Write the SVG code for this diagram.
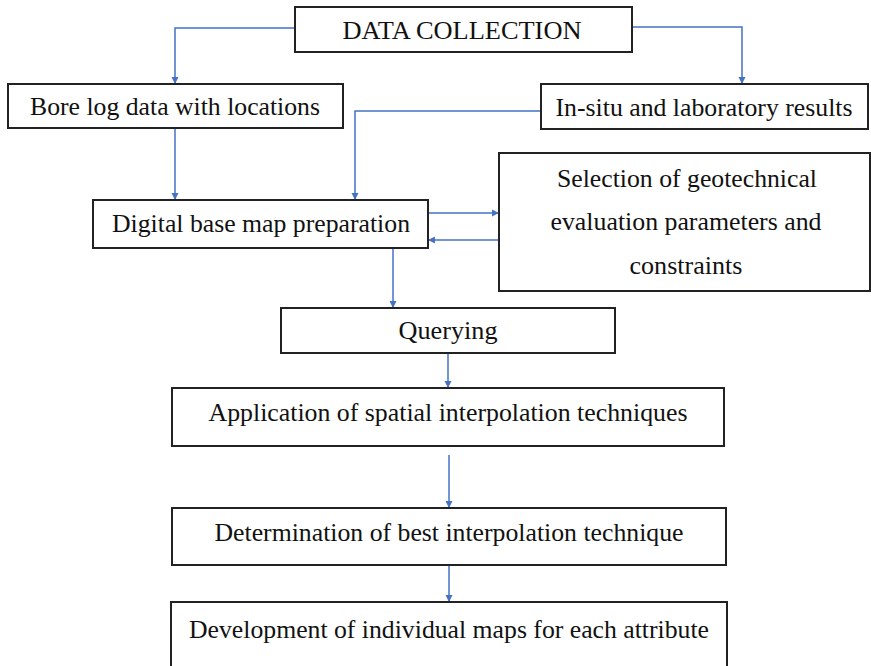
<svg xmlns="http://www.w3.org/2000/svg" width="871" height="666" viewBox="0 0 871 666">
<style>
.box{fill:#fff;stroke:#222;stroke-width:2}
.t{font-family:"Liberation Serif","Times New Roman",serif;font-size:26px;fill:#111;text-anchor:middle;dominant-baseline:central}
.c{fill:none;stroke:#4472C4;stroke-width:1.5}
</style>
<defs>
<marker id="ah" viewBox="0 0 10 10" refX="10" refY="5" markerWidth="7" markerHeight="8" markerUnits="userSpaceOnUse" orient="auto"><path d="M0,0L10,5L0,10z" fill="#4472C4"/></marker>
</defs>
<rect width="871" height="666" fill="#fff"/>
<g id="connectors">
<path class="c" d="M295,28H175V84" marker-end="url(#ah)"/>
<path class="c" d="M632,27H742V84" marker-end="url(#ah)"/>
<path class="c" d="M175,128V200" marker-end="url(#ah)"/>
<path class="c" d="M541,111H355V200" marker-end="url(#ah)"/>
<path class="c" d="M428,213H499" marker-end="url(#ah)"/>
<path class="c" d="M499,240H428" marker-end="url(#ah)"/>
<path class="c" d="M393,248V308" marker-end="url(#ah)"/>
<path class="c" d="M448,353V388" marker-end="url(#ah)"/>
<path class="c" d="M449,455V508" marker-end="url(#ah)"/>
<path class="c" d="M449,565V602" marker-end="url(#ah)"/>
</g>
<g id="data-collection"><rect class="box" x="295" y="7" width="337" height="45"/><text class="t" x="462" y="30" textLength="239" lengthAdjust="spacingAndGlyphs">DATA COLLECTION</text></g>
<g id="bore-log"><rect class="box" x="8" y="84" width="335" height="44"/><text class="t" x="175" y="106" textLength="290" lengthAdjust="spacingAndGlyphs">Bore log data with locations</text></g>
<g id="in-situ"><rect class="box" x="541" y="84" width="327" height="45"/><text class="t" x="704" y="107" textLength="297" lengthAdjust="spacingAndGlyphs">In-situ and laboratory results</text></g>
<g id="digital-base-map"><rect class="box" x="93" y="200" width="335" height="48"/><text class="t" x="261" y="223" textLength="298" lengthAdjust="spacingAndGlyphs">Digital base map preparation</text></g>
<g id="selection"><rect class="box" x="499" y="153" width="371" height="138"/><text class="t" x="687" y="178" textLength="260" lengthAdjust="spacingAndGlyphs">Selection of geotechnical</text><text class="t" x="686" y="221" textLength="271" lengthAdjust="spacingAndGlyphs">evaluation parameters and</text><text class="t" x="686" y="265" textLength="113" lengthAdjust="spacingAndGlyphs">constraints</text></g>
<g id="querying"><rect class="box" x="281" y="308" width="334" height="45"/><text class="t" x="448" y="330" textLength="99" lengthAdjust="spacingAndGlyphs">Querying</text></g>
<g id="application"><rect class="box" x="172" y="388" width="552" height="58"/><text class="t" x="448" y="412" textLength="479" lengthAdjust="spacingAndGlyphs">Application of spatial interpolation techniques</text></g>
<g id="determination"><rect class="box" x="172" y="508" width="554" height="57"/><text class="t" x="449" y="532" textLength="469" lengthAdjust="spacingAndGlyphs">Determination of best interpolation technique</text></g>
<g id="development"><rect class="box" x="171" y="602" width="556" height="70"/><text class="t" x="449" y="629" textLength="520" lengthAdjust="spacingAndGlyphs">Development of individual maps for each attribute</text></g>
</svg>
